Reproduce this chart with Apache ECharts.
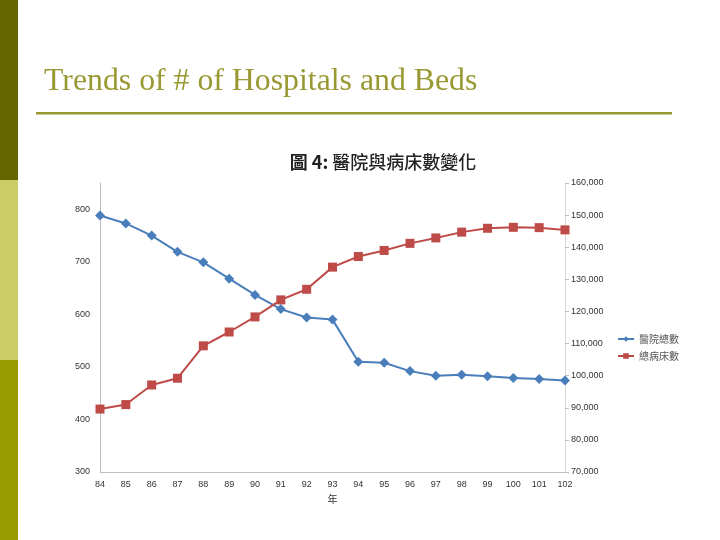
<!DOCTYPE html>
<html><head><meta charset="utf-8">
<script src="https://cdn.jsdelivr.net/npm/echarts@6/dist/echarts.min.js"></script>
<style>html,body{margin:0;padding:0;background:#fff}#c{width:720px;height:540px}</style>
</head><body><div id="c"></div>
<script>
const years = ['84','85','86','87','88','89','90','91','92','93','94','95','96','97','98','99','100','101','102'];
const hospitals = [788,773,750,719,699,668,637,610,594,590,510,508,492,483,485,482,479,477,474];
const beds = [89600,91000,97100,99200,109300,113600,118300,123600,126900,133800,137100,139000,141200,142900,144700,145900,146200,146100,145400];
const seriesNames = ['醫院總數','總病床數'];

const chart = echarts.init(document.getElementById('c'));
chart.setOption({
  backgroundColor:'#fff',
  animation:false,
  graphic:[
    {type:'rect',shape:{x:0,y:0,width:18,height:180},style:{fill:'#666600'}},
    {type:'rect',shape:{x:0,y:180,width:18,height:180},style:{fill:'#cccc66'}},
    {type:'rect',shape:{x:0,y:360,width:18,height:180},style:{fill:'#999900'}},
    {type:'text',left:44,top:66,style:{text:'Trends of # of Hospitals and Beds',font:'31.8px "Liberation Serif", serif',fill:'#999933'}},
    {type:'rect',shape:{x:36,y:112,width:636,height:2.5},style:{fill:'#999933'}}
  ],
  title:{text:'{b|圖 4:} 醫院與病床數變化',left:378,top:148,textAlign:'center',
    textStyle:{fontFamily:'"Noto Sans CJK TC"',fontSize:18,fontWeight:500,color:'#222',
      rich:{b:{fontFamily:'"Noto Sans CJK TC"',fontSize:18,fontWeight:'bold',color:'#222'}}}},
  legend:{orient:'vertical',left:612,top:329,itemGap:7,itemWidth:16,itemHeight:7,
    textStyle:{fontSize:10,color:'#555',fontFamily:'"Noto Sans CJK TC"'},data:seriesNames},
  grid:{left:100,right:155,top:183,bottom:68},
  xAxis:{type:'category',data:years,boundaryGap:false,name:'年',nameLocation:'middle',nameGap:20,
    nameTextStyle:{fontSize:10,color:'#333',fontFamily:'"Noto Sans CJK TC"'},
    axisLine:{lineStyle:{color:'#bfbfbf'}},axisTick:{show:false},
    axisLabel:{fontSize:9,color:'#333',margin:8}},
  yAxis:[
    {type:'value',min:300,max:850,interval:100,splitLine:{show:false},
      axisLine:{show:true,lineStyle:{color:'#bfbfbf'}},axisTick:{show:false},
      axisLabel:{fontSize:9,color:'#333',showMaxLabel:false,margin:10}},
    {type:'value',min:70000,max:160000,interval:10000,splitLine:{show:false},position:'right',
      axisLine:{show:true,lineStyle:{color:'#d9d9d9'}},axisTick:{show:true,length:4,lineStyle:{color:'#bfbfbf'}},
      axisLabel:{fontSize:9,color:'#333',margin:6,formatter:v=>v.toLocaleString('en-US')}}
  ],
  series:[
    {name:seriesNames[0],type:'line',data:hospitals,yAxisIndex:0,symbol:'diamond',symbolSize:10,
      itemStyle:{color:'#4a7ebb'},lineStyle:{color:'#4a7ebb',width:2}},
    {name:seriesNames[1],type:'line',data:beds,yAxisIndex:1,symbol:'rect',symbolSize:9,
      itemStyle:{color:'#be4b48'},lineStyle:{color:'#be4b48',width:2}}
  ]
});
</script></body></html>
